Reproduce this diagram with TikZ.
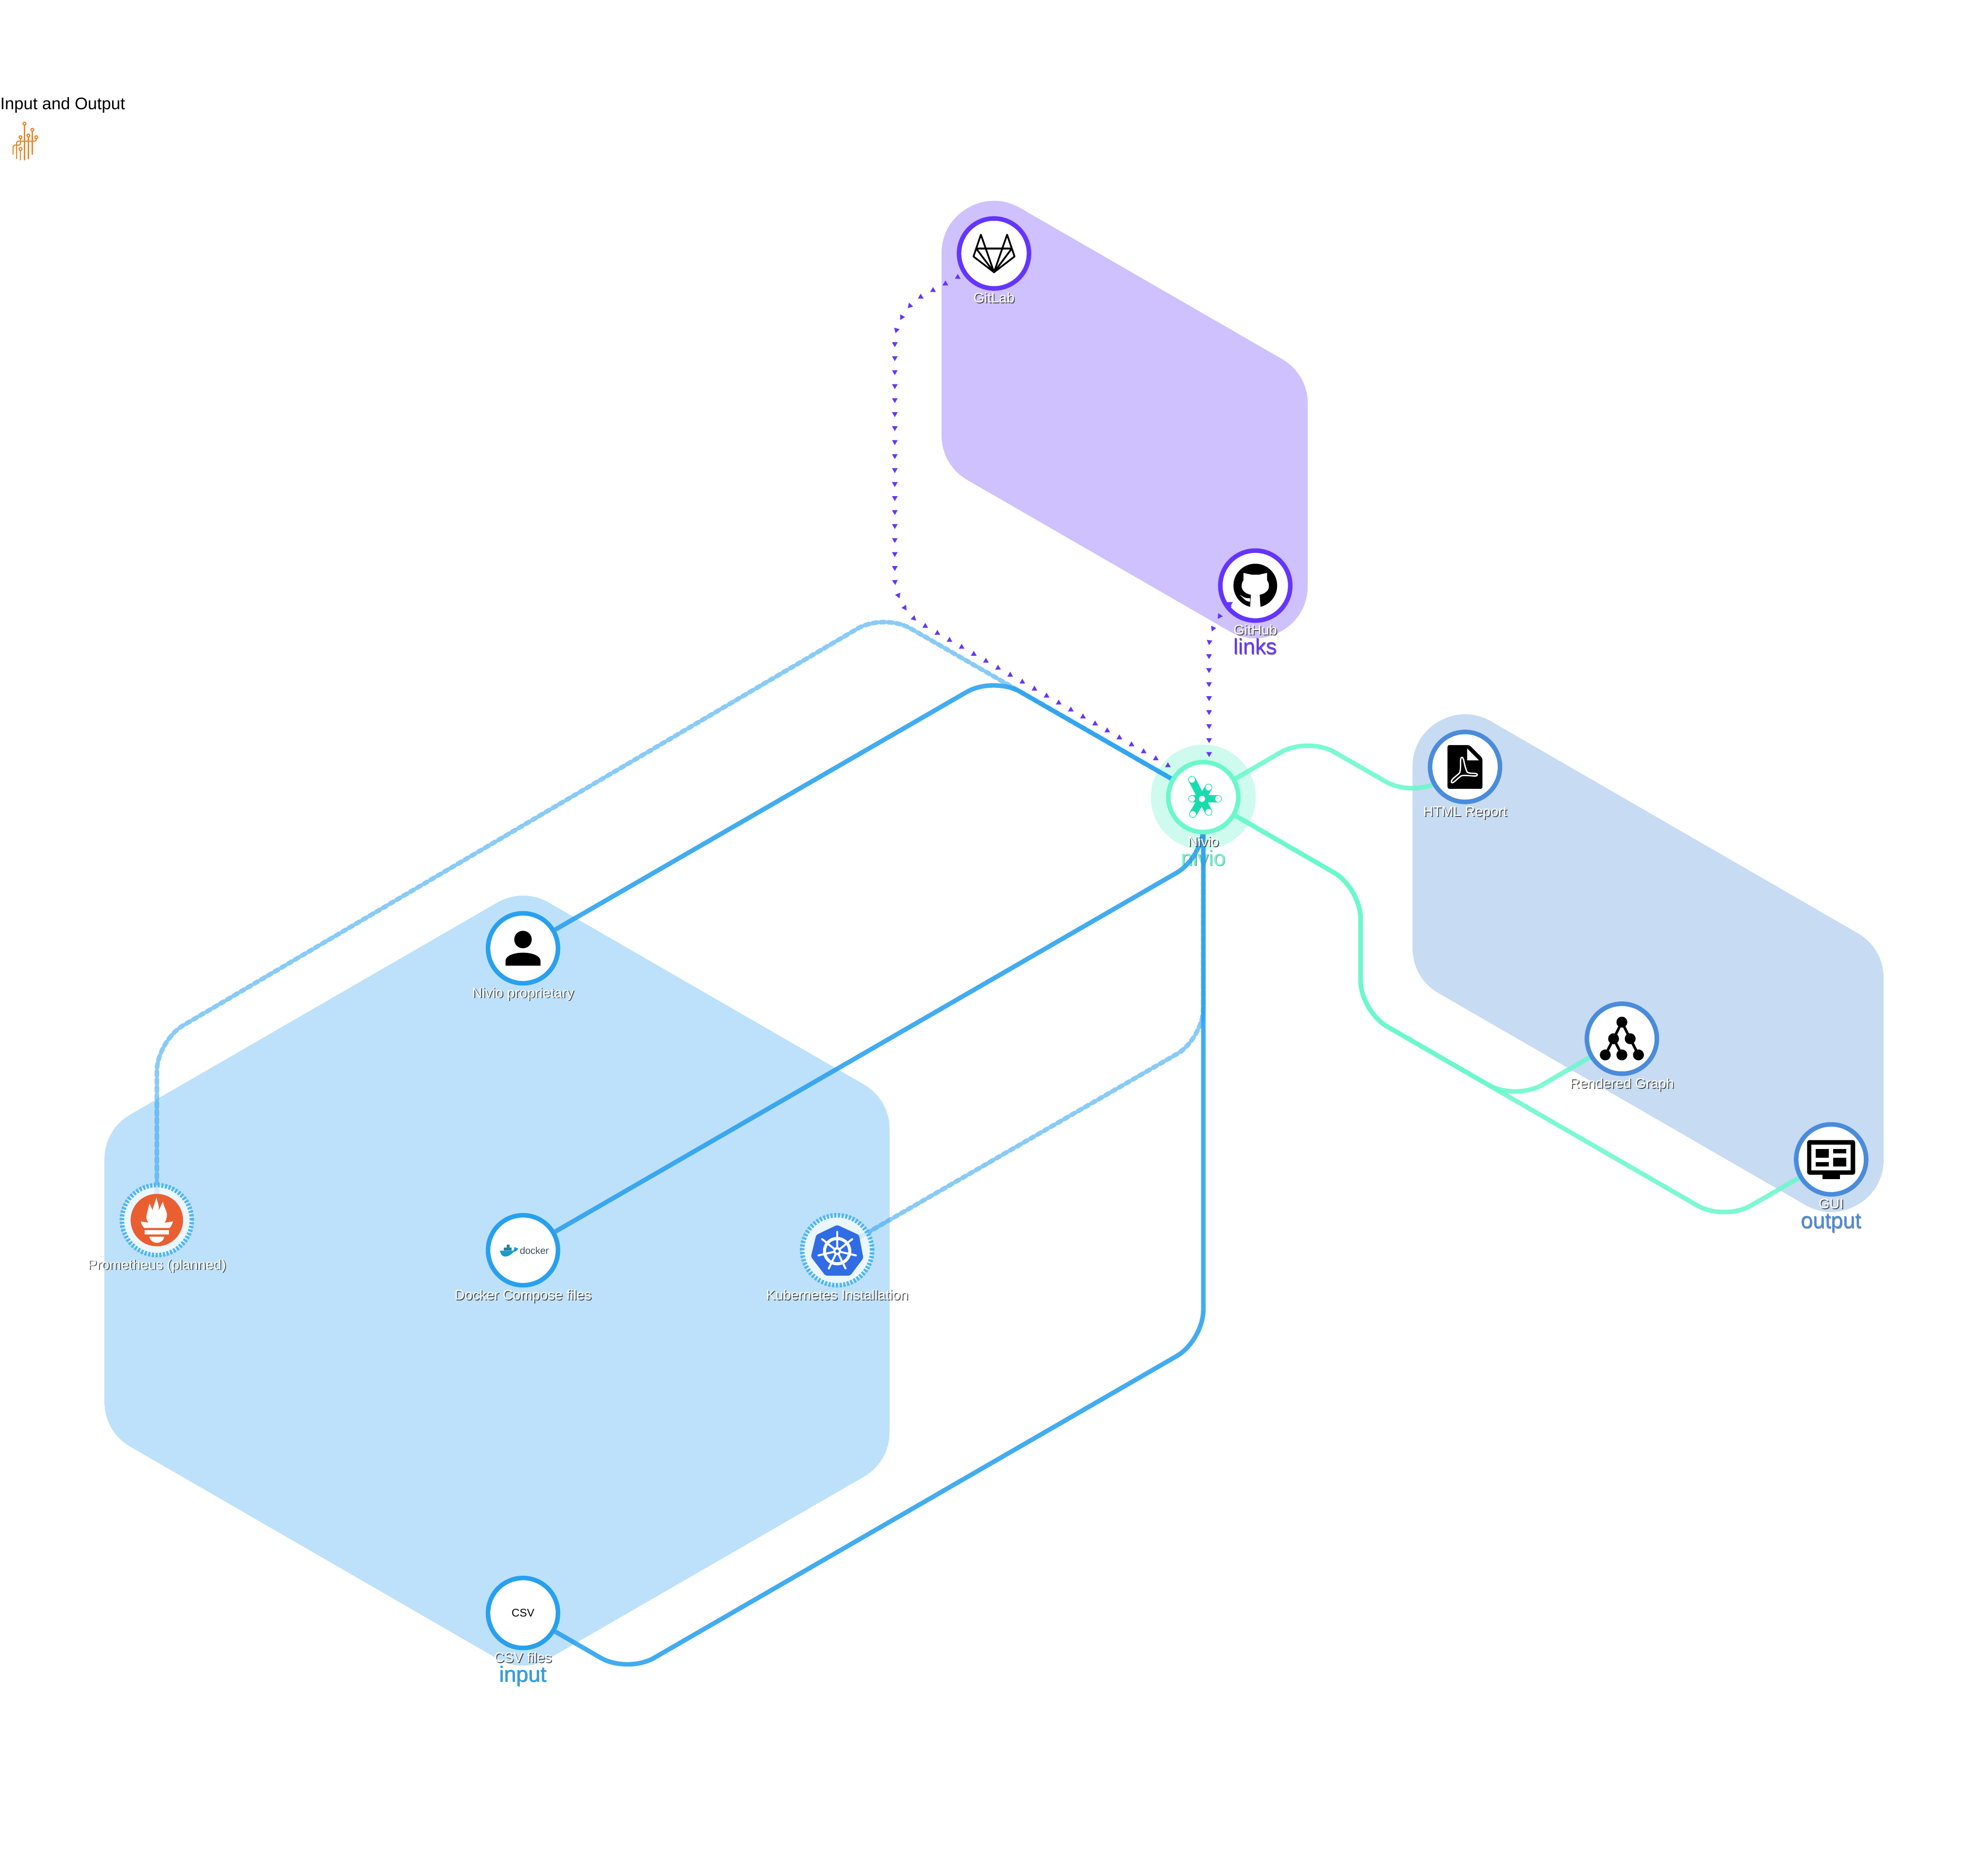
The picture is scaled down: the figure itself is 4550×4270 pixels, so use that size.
\documentclass[tikz,border=0pt]{standalone}
\usepackage{fontspec}
\setmainfont{Liberation Sans}
\usetikzlibrary{positioning,backgrounds,decorations.markings}
\definecolor{inputblue}{HTML}{28A0EE}
\definecolor{inputfill}{HTML}{BDE1FA}
\definecolor{inputdash}{HTML}{4DB6F5}
\definecolor{linksviolet}{HTML}{6435FF}
\definecolor{linksfill}{HTML}{CFC1FE}
\definecolor{outputblue}{HTML}{4A8BDC}
\definecolor{outputfill}{HTML}{C7DBF3}
\definecolor{niviogreen}{HTML}{6AF8CB}
\definecolor{niviohalo}{HTML}{CEFBED}
\definecolor{nivioicon}{HTML}{17DCAD}
\definecolor{promorange}{HTML}{E95F31}
\definecolor{kubeblue}{HTML}{326CE5}
\definecolor{titleorange}{HTML}{E8872B}
\definecolor{whaleblue}{HTML}{1C9BC9}
\definecolor{whaledark}{HTML}{2F7F9E}
\definecolor{dockertext}{HTML}{3A4D54}
\newcommand{\shadowed}[1]{\makebox[0pt][l]{\kern0.02cm\raisebox{-0.02cm}{\textcolor{black!70}{#1}}}#1}
\newcommand{\softshadowed}[1]{\makebox[0pt][l]{\kern0.012cm\raisebox{-0.012cm}{\textcolor{black!45}{#1}}}#1}
\tikzset{
  item/.style={circle, draw, line width=0.104cm, minimum size=1.6cm, inner sep=0pt, fill=white},
  planned/.style={item, draw=inputdash, fill opacity=0.7, dash pattern=on 0.05cm off 0.035cm},
  itemname/.style={inner sep=0pt, text=white, text height=0.23cm, text depth=0.07cm, font=\fontsize{9.1pt}{11pt}\selectfont},
  groupname/.style={inner sep=0pt, text height=0.36cm, text depth=0.11cm, font=\fontsize{14.2pt}{17pt}\selectfont},
  hull/.style={line width=2.4cm, line join=round},
  roundlink/.style={rounded corners=0.7cm},
  inputlink/.style={roundlink, draw=inputblue, draw opacity=0.88, line width=0.104cm},
  dashlink/.style={roundlink, draw=inputblue, draw opacity=0.55, line width=0.104cm, line cap=round, dash pattern=on 0.1cm off 0.08cm, shorten <=-0.25cm},
  outputlink/.style={roundlink, draw=niviogreen, draw opacity=0.88, line width=0.104cm},
  dotlink/.style={roundlink, decorate, decoration={markings, mark=between positions 0.14cm and 1 step 0.32cm with {\fill[linksviolet, sharp corners] (0.075cm,0cm) -- (-0.0375cm,0.065cm) -- (-0.0375cm,-0.065cm) -- cycle;}}},
  icon/.style={line width=0.04cm, line cap=round, line join=round}
}
\begin{document}
\begin{tikzpicture}[x=0.01cm, y=-0.01cm]
    \useasboundingbox (0,0) rectangle (4550,4270);

    \node[anchor=base west, inner sep=0pt, font=\fontsize{10.9pt}{13pt}\selectfont] (title) at (0,250) {Input and Output};

    \node[item, draw=inputblue] (np) at (1197,2170) {};
    \node[planned] (pr) at (359,2792) {};
    \node[item, draw=inputblue] (dc) at (1197,2861) {};
    \node[planned] (k8) at (1916,2861) {};
    \node[item, draw=inputblue, font=\fontsize{7.2pt}{9pt}\selectfont] (csv) at (1197,3691) {CSV};
    \node[item, draw=linksviolet] (gl) at (2275,580) {};
    \node[item, draw=linksviolet] (gh) at (2873,1340) {};
    \node[item, draw=niviogreen] (n) at (2754,1824) {};
    \node[item, draw=outputblue] (h) at (3353,1755) {};
    \node[item, draw=outputblue] (rg) at (3712,2377) {};
    \node[item, draw=outputblue] (gui) at (4191,2653) {};

    \node[itemname, below=0.04cm of np] (npl) {\shadowed{Nivio proprietary}};
    \node[itemname, below=0.04cm of pr] (prl) {\shadowed{Prometheus (planned)}};
    \node[itemname, below=0.04cm of dc] (dcl) {\shadowed{Docker Compose files}};
    \node[itemname, below=0.04cm of k8] (k8l) {\shadowed{Kubernetes Installation}};
    \node[itemname, below=0.04cm of csv] (csvl) {\shadowed{CSV files}};
    \node[itemname, below=0.04cm of gl] (gll) {\shadowed{GitLab}};
    \node[itemname, below=0.04cm of gh] (ghl) {\shadowed{GitHub}};
    \node[itemname, below=0.04cm of n] (nl) {\shadowed{Nivio}};
    \node[itemname, below=0.04cm of h] (hl) {\shadowed{HTML Report}};
    \node[itemname, below=0.04cm of rg] (rgl) {\shadowed{Rendered Graph}};
    \node[itemname, below=0.04cm of gui] (guil) {\shadowed{GUI}};

    \coordinate (npbend) at (2274,1548);
    \coordinate (prup) at (359,2382);
    \coordinate (prtop) at (2023,1403);
    \coordinate (dcbend) at (2754,1962);
    \coordinate (k8bend) at (2754,2377);
    \coordinate (csvlow) at (1436,3829);
    \coordinate (csvbend) at (2754,3068);
    \coordinate (glup) at (2048,711);
    \coordinate (gllow) at (2048,1393);
    \coordinate (ghbend) at (2767,1411);
    \coordinate (htop) at (2993,1686);
    \coordinate (hlow) at (3233,1824);
    \coordinate (outup) at (3114,2032);
    \coordinate (outlow) at (3114,2314);
    \coordinate (rglow) at (3468,2518);
    \coordinate (guilow) at (3946,2794);

    \begin{scope}[on background layer]
        \filldraw[hull, draw=inputfill, fill=inputfill] (1197,2170) -- (1916,2585) -- (1916,3276) -- (1197,3691) -- (359,3207) -- (359,2654) -- cycle;
        \filldraw[hull, draw=linksfill, fill=linksfill] (2275,580) -- (2873,925) -- (2873,1340) -- (2275,995) -- cycle;
        \filldraw[hull, draw=outputfill, fill=outputfill] (3353,1755) -- (4191,2239) -- (4191,2653) -- (3353,2169) -- cycle;
        \fill[niviohalo] (n) circle (120);

        \node[groupname, text=inputblue, below=0cm of csvl] (inputname) {\softshadowed{input}};
        \node[groupname, text=linksviolet, below=0cm of ghl] (linksname) {\softshadowed{links}};
        \node[groupname, text=niviogreen, below=0cm of nl] (nivioname) {\softshadowed{nivio}};
        \node[groupname, text=outputblue, below=0cm of guil] (outputname) {\softshadowed{output}};

        \draw[dashlink] (pr) -- (prup) -- (prtop) -- (n);
        \draw[dashlink] (k8) -- (k8bend) -- (n);
        \draw[inputlink] (np) -- (npbend) -- (n);
        \draw[inputlink] (dc) -- (dcbend) -- (n);
        \draw[inputlink] (csv) -- (csvlow) -- (csvbend) -- (n);
        \draw[outputlink] (n) -- (htop) -- (hlow) -- (h);
        \draw[outputlink] (n) -- (outup) -- (outlow) -- (rglow) -- (rg);
        \draw[outputlink] (n) -- (outup) -- (outlow) -- (guilow) -- (gui);
    \end{scope}

    \path[dotlink] (gl.214) -- (glup) -- (gllow) -- (n.135);
    \path[dotlink] (gh.215) -- (ghbend) -- (n.81);

    \begin{scope}[icon, draw=titleorange, line width=0.026cm]
        \draw (56,286) -- (56,366);
        \draw (74,300) -- (74,353);
        \draw (65,313) -- (65,363);
        \draw[rounded corners=0.04cm] (83,317) -- (83,323) -- (38,323) -- (38,363);
        \draw[rounded corners=0.04cm] (47,317) -- (47,332) -- (30,332) -- (30,353);
        \draw (47,344) -- (47,366);
        \foreach \cx/\cy in {56/283, 74/297, 65/310, 83/314, 47/314, 47/341}
            \draw (\cx,\cy) circle (3.3);
    \end{scope}

    \begin{scope}[shift={(np)}]
        \fill (0,-20) circle (20);
        \fill (-40,40) -- (-40,29) .. controls (-40,16) and (-18,10) .. (0,10) .. controls (18,10) and (40,16) .. (40,29) -- (40,40) -- cycle;
    \end{scope}

    \begin{scope}[shift={(gl)}, icon]
        \draw (-47,7) -- (-30,-43) -- (0,43) -- (30,-43) -- (47,7) -- (0,43) -- cycle;
        \draw (-39,-11) -- (39,-11);
        \draw (-39,-9) -- (0,43) -- (39,-9);
    \end{scope}

    \begin{scope}[shift={(gh)}]
        \fill (0,0) circle (50);
        \fill[white] (-27,-29) -- (-9,-25) -- (9,-25) -- (27,-29) -- (27,-12) .. controls (33,-4) and (33,8) .. (25,14) .. controls (20,19) and (14,20) .. (10,21) -- (12,52) -- (-12,52) -- (-10,21) .. controls (-14,20) and (-20,19) .. (-25,14) .. controls (-33,8) and (-33,-4) .. (-27,-12) -- cycle;
        \fill[white] (-36,21) .. controls (-30,22) and (-28,30) .. (-12,29) -- (-12,37) .. controls (-25,36) and (-28,26) .. (-36,21) -- cycle;
    \end{scope}

    \begin{scope}[shift={(n)}]
        \foreach \sx/\sy in {-26/-40, 12/-22, -26/4, 34/4, 12/34, -24/39}
            \draw[nivioicon, line width=0.17cm, line cap=round] (-3,4) -- (\sx,\sy);
        \foreach \sx/\sy in {-26/-40, 12/-22, -26/4, 34/4, 12/34, -24/39, -3/4}
            \fill[white] (\sx,\sy) circle (7);
    \end{scope}

    \begin{scope}[shift={(h)}]
        \fill[rounded corners=0.04cm] (-40,-50) -- (10,-50) -- (40,-20) -- (40,50) -- (-40,50) -- cycle;
        \fill[white] (5,-42) -- (32,-15) -- (5,-15) -- cycle;
        \draw[white, line width=0.03cm] (-7,-22) .. controls (-2,-22) and (-3,-5) .. (5,12) .. controls (12,17) and (28,12) .. (28,18) .. controls (28,24) and (10,18) .. (-8,20) .. controls (-20,28) and (-28,40) .. (-31,35) .. controls (-33,28) and (-20,22) .. (-12,13) .. controls (-8,0) and (-13,-22) .. (-7,-22) -- cycle;
    \end{scope}

    \begin{scope}[shift={(rg)}]
        \draw[line width=0.06cm] (-38,37) -- (-19,0) -- (0,-38) -- (19,0) -- (38,37);
        \draw[line width=0.06cm] (-19,0) -- (0,37);
        \foreach \tx/\ty in {0/-38, -19/0, 19/0, -38/37, 0/37, 38/37}
            \fill (\tx,\ty) circle (12.5);
    \end{scope}

    \begin{scope}[shift={(gui)}]
        \fill[rounded corners=0.05cm] (-55,-44) rectangle (55,35);
        \fill (-20,35) rectangle (20,45);
        \fill[white] (-45,-34) rectangle (45,25);
        \fill (-35,-24) rectangle (-5,-4);
        \fill (5,-24) rectangle (35,-14);
        \fill (-35,6) rectangle (-5,16);
        \fill (5,-4) rectangle (35,16);
    \end{scope}

    \begin{scope}[shift={(pr)}]
        \fill[promorange] (0,0) circle (60);
        \fill[white] (-1,-52) .. controls (2,-38) and (6,-30) .. (4,-22) .. controls (8,-28) and (10,-36) .. (14,-42) .. controls (16,-28) and (24,-22) .. (23,-9) .. controls (22,-2) and (20,2) .. (18,6) -- (-19,6) .. controls (-22,2) and (-25,-3) .. (-24,-9) .. controls (-22,-20) and (-19,-28) .. (-17,-38) .. controls (-14,-32) and (-12,-28) .. (-10,-22) .. controls (-8,-32) and (-4,-40) .. (-1,-52) -- cycle;
        \fill[white] (-37,3) -- (-18,6) -- (18,6) -- (37,3) .. controls (35,10) and (32,15) .. (29,18) -- (-29,18) .. controls (-32,15) and (-35,10) .. (-37,3) -- cycle;
        \fill[white] (-28,23) rectangle (28,33);
        \fill[white] (-17,38) -- (17,38) .. controls (15,48) and (7,52) .. (0,52) .. controls (-7,52) and (-15,48) .. (-17,38) -- cycle;
    \end{scope}

    \begin{scope}[shift={(k8)}]
        \fill[kubeblue, rounded corners=0.04cm] (0,-58) -- (50,-35) -- (60,18) -- (30,58) -- (-27,58) -- (-60,15) -- (-48,-35) -- cycle;
        \draw[white, line width=0.07cm] (0,2) circle (29);
        \foreach \a in {0,...,6}
            \draw[white, line width=0.045cm, line cap=round] (0,2) -- ++(-90+\a*51.43:44);
        \fill[white] (0,2) circle (9);
        \fill[kubeblue] (0,2) circle (4);
    \end{scope}

    \begin{scope}[shift={(dc)}]
        \fill[whaleblue] (-53,1) -- (-22,1) .. controls (-20,-2) and (-20,-6) .. (-19,-8) .. controls (-17,-5) and (-12,-5) .. (-11,-4) .. controls (-13,2) and (-18,3) .. (-22,4) .. controls (-28,12) and (-38,16) .. (-44,14) .. controls (-49,12) and (-51,8) .. (-53,1) -- cycle;
        \fill[whaledark] (-44,-6) rectangle (-26,0);
        \fill[whaledark] (-37,-13) rectangle (-31,-6);
        \node[anchor=base west, inner sep=0pt, text=dockertext, font=\fontsize{6.3pt}{8pt}\selectfont] (dct) at (-8,9) {docker};
    \end{scope}
\end{tikzpicture}
\end{document}
